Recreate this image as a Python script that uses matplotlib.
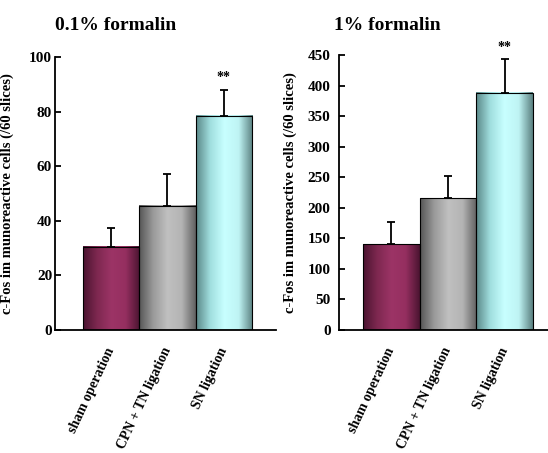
import matplotlib.pyplot as plt
import numpy as np
from matplotlib.colors import LinearSegmentedColormap

groups = ['sham operation', 'CPN + TN ligation', 'SN ligation']
low_mean = [30.5, 45.5, 78.5]
low_err = [7.0, 11.5, 9.5]
high_mean = [140, 216, 388]
high_err = [37, 36, 55]
marks = ['', '', '**']

plt.rcParams['font.family'] = ['Liberation Serif', 'DejaVu Serif']
plt.rcParams['font.weight'] = 'bold'

shades = [
    ['#4a1430', '#7e2850', '#9c3466', '#952f60', '#4a1430'],
    ['#555555', '#9a9a9a', '#c0c0c0', '#b4b4b4', '#606060'],
    ['#5a8888', '#a0dede', '#c8ffff', '#bff4f4', '#5a8080'],
]
cmaps = [LinearSegmentedColormap.from_list('c%d' % i, s) for i, s in enumerate(shades)]


def draw_panel(ax, means, errs, ymax, step, xlim, tpad, lx):
    x = np.arange(len(means))
    bars = ax.bar(x, means, width=1.0, color='none', edgecolor='black',
                  linewidth=0.8, zorder=3)
    grad = np.linspace(0, 1, 256).reshape(1, -1)
    for b, cm in zip(bars, cmaps):
        x0, y0 = b.get_x(), b.get_y()
        ax.imshow(grad, cmap=cm, aspect='auto', zorder=2,
                  extent=[x0, x0 + b.get_width(), y0, y0 + b.get_height()])
    ax.errorbar(x, means, yerr=[np.zeros(len(errs)), errs], fmt='none',
                ecolor='black', elinewidth=1.3, capsize=3, capthick=1.3,
                zorder=4)
    for xi, m, e, s in zip(x, means, errs, marks):
        if s:
            ax.annotate(s, (xi, m + e), xytext=(0, 4), textcoords='offset points',
                        ha='center', va='bottom', fontsize=10, fontweight='bold')
    ax.set_xlim(*xlim)
    ax.set_ylim(0, ymax)
    ax.set_yticks(np.arange(0, ymax + 1, step))
    ax.set_xticks(x)
    ax.set_xticklabels(groups, rotation=65, ha='right', va='center',
                       rotation_mode='anchor', fontsize=10, fontweight='bold')
    ax.tick_params(axis='x', length=0, pad=13)
    ax.tick_params(axis='y', direction='in', length=4, width=1.3,
                   labelsize=11, pad=tpad)
    for lab in ax.get_yticklabels():
        lab.set_fontweight('bold')
    ax.spines['top'].set_visible(False)
    ax.spines['right'].set_visible(False)
    ax.spines['left'].set_linewidth(1.3)
    ax.spines['bottom'].set_linewidth(1.3)
    ax.set_ylabel('c-Fos im munoreactive cells (/60 slices)', fontsize=10.5,
                  fontweight='bold')
    ax.yaxis.set_label_coords(lx, 0.5)


fig = plt.figure(figsize=(5.48, 4.53), dpi=100)
ax1 = fig.add_axes([55 / 548, 1 - 330 / 453, 221 / 548, 273 / 453])
ax2 = fig.add_axes([339 / 548, 1 - 330 / 453, 209 / 548, 275 / 453])

draw_panel(ax1, low_mean, low_err, 100, 20, (-1.0, 2.93), 2, -0.185)
draw_panel(ax2, high_mean, high_err, 450, 50, (-0.92, 2.76), 6, -0.2)

fig.text(55 / 548, 1 - 25 / 453, '0.1% formalin', fontsize=14,
         fontweight='bold', va='center', ha='left')
fig.text(334 / 548, 1 - 25 / 453, '1% formalin', fontsize=14,
         fontweight='bold', va='center', ha='left')

fig.savefig('out.png', dpi=100)
